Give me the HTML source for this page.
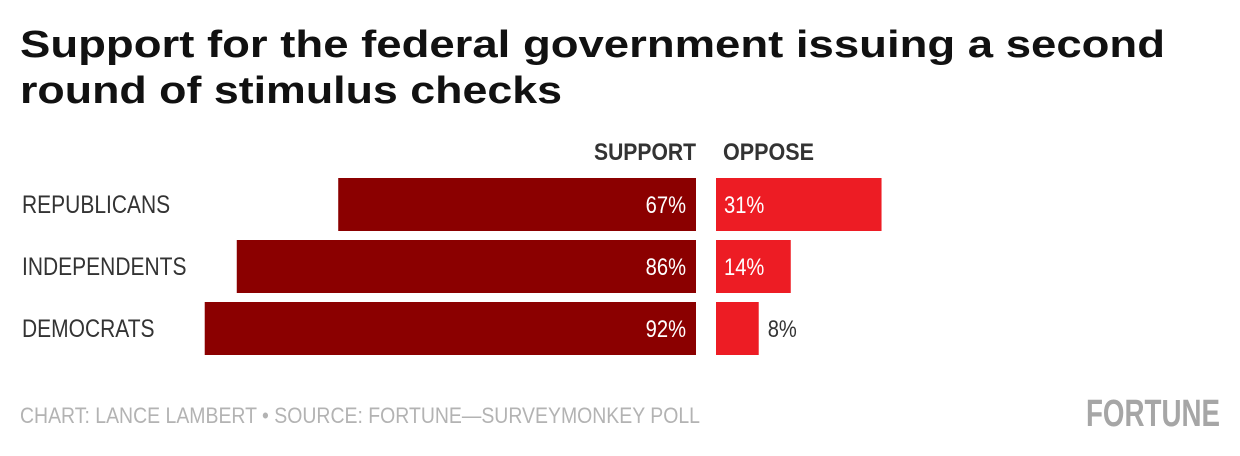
<!DOCTYPE html>
<html><head><meta charset="utf-8"><style>
body{margin:0;background:#fff;width:1240px;height:456px;overflow:hidden}
svg{display:block}
text{font-family:"Liberation Sans Narrow","Liberation Sans",sans-serif}
</style></head><body>
<svg id="chart" width="1240" height="456" viewBox="0 0 1240 456">
<text x="20" y="57" style="font-family:'Liberation Sans',sans-serif;font-weight:bold;font-size:38px;fill:#111" textLength="1145" lengthAdjust="spacingAndGlyphs">Support for the federal government issuing a second</text>
<text x="20" y="103" style="font-family:'Liberation Sans',sans-serif;font-weight:bold;font-size:38px;fill:#111" textLength="542" lengthAdjust="spacingAndGlyphs">round of stimulus checks</text>
<text x="594" y="160" style="font-weight:bold;font-size:24px;fill:#333" textLength="102" lengthAdjust="spacingAndGlyphs">SUPPORT</text>
<text x="723" y="160" style="font-weight:bold;font-size:24px;fill:#333" textLength="91" lengthAdjust="spacingAndGlyphs">OPPOSE</text>
<g id="bars"></g>
<text x="20" y="423" style="font-size:22px;fill:#b3b3b3" textLength="680" lengthAdjust="spacingAndGlyphs">CHART: LANCE LAMBERT • SOURCE: FORTUNE—SURVEYMONKEY POLL</text>
<text x="1086" y="426" style="font-weight:bold;font-size:38px;fill:#a6a6a6" textLength="134" lengthAdjust="spacingAndGlyphs">FORTUNE</text>
</svg>
<script>
const categories=["REPUBLICANS","INDEPENDENTS","DEMOCRATS"];
const supportValues=[67,86,92];
const opposeValues=[31,14,8];
const NS="http://www.w3.org/2000/svg";
const g=document.getElementById("bars");
const sx=v=>v*5.34;
const rowY=i=>178+i*62;
const H=53;
function mk(tag,attrs,txt){const e=document.createElementNS(NS,tag);for(const k in attrs)e.setAttribute(k,attrs[k]);if(txt!==undefined)e.textContent=txt;g.appendChild(e);return e;}
function ntext(x,y,anchor,style,txt){return mk("text",{x:0,y:0,"text-anchor":anchor,style:style,transform:"translate("+x+","+y+") scale(0.84,1)"},txt);}
categories.forEach((c,i)=>{
  const y=rowY(i);
  const lab=ntext(22,y+35,"start","font-size:25px;fill:#333",c);
  
  
  const s=sx(supportValues[i]);
  const b=mk("rect",{x:696-s,y:y,width:s,height:H,fill:"#8b0000"});
  
  
  const st=ntext(686,y+35,"end","font-size:24px;fill:#fff",supportValues[i]+"%");
  
  
  const o=sx(opposeValues[i]);
  const ob=mk("rect",{x:716,y:y,width:o,height:H,fill:"#ed1c24"});
  
  
  const inside=o>60;
  const ot=ntext(inside?724:716+o+9,y+35,"start","font-size:24px;fill:"+(inside?"#fff":"#333"),opposeValues[i]+"%");
  
  
});
</script>
</body></html>
